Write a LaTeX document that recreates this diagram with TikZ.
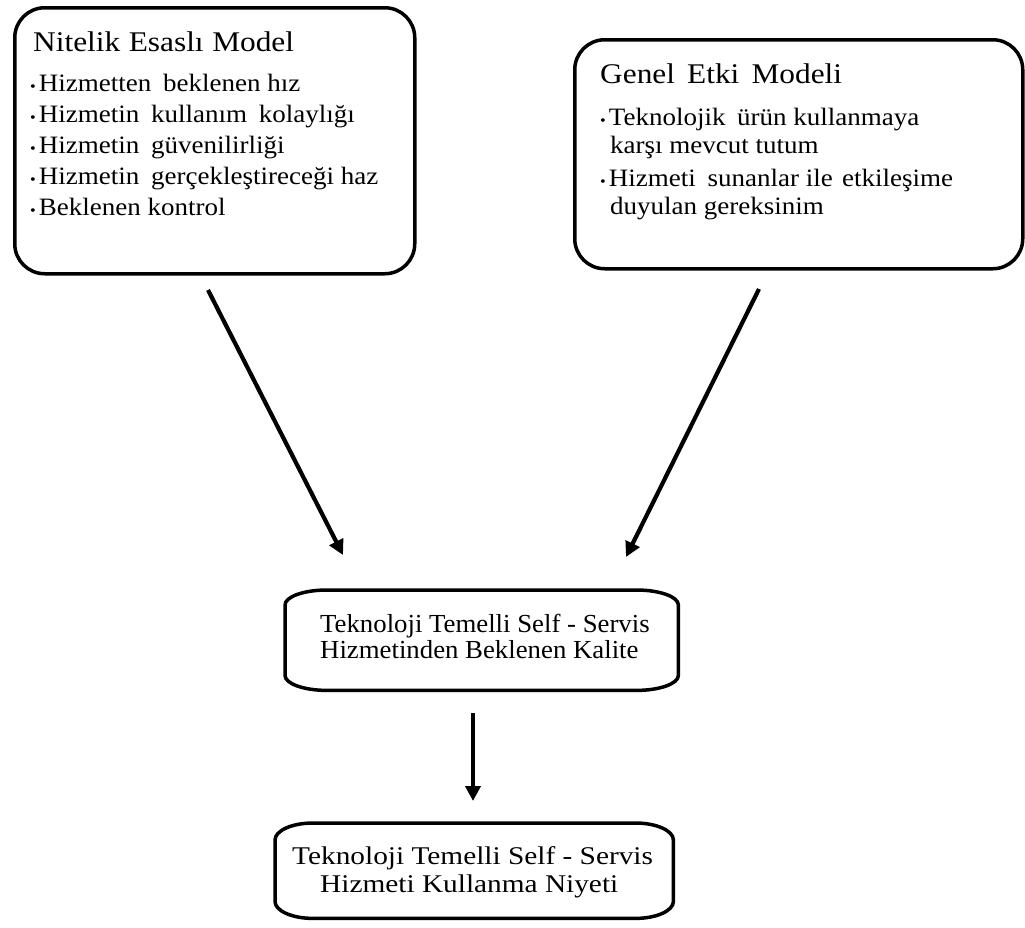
\documentclass[tikz,border=0pt]{standalone}
\usepackage{fontspec}
\setmainfont{Liberation Serif}
\newfontfamily\boxfont[FakeStretch=1.08]{Liberation Serif}
\newfontfamily\headfont[FakeStretch=1.1]{Liberation Serif}
\newfontfamily\resfont[FakeStretch=1.03]{Liberation Serif}
\newfontfamily\intfont[FakeStretch=1.15]{Liberation Serif}
\usetikzlibrary{arrows.meta,calc}

% small bullet used in the model lists
\newcommand{\listdot}{{\fontsize{15}{15}\selectfont •}\hspace{3pt}}

\tikzset{
  modelbox/.style={draw, line width=3.5pt, rounded corners=30pt, inner sep=0pt, anchor=north west},
  plainbox/.style={inner sep=0pt, anchor=north west},
  heading/.style={anchor=base west, inner sep=0pt, font=\headfont\fontsize{28.5}{30}\selectfont},
  item/.style={anchor=base west, inner sep=0pt, font=\boxfont\fontsize{25}{28}\selectfont},
  restext/.style={anchor=base west, inner sep=0pt, font=\resfont\fontsize{26}{28}\selectfont},
  inttext/.style={anchor=base west, inner sep=0pt, font=\intfont\fontsize{25.5}{28}\selectfont},
  border/.style={line width=3.5pt},
  flow/.style={line width=4.2pt, -{Triangle[length=15pt,width=15pt]}}
}

\begin{document}
\begin{tikzpicture}[x=1pt,y=-1pt]
\useasboundingbox (0,0) rectangle (1025,927);

% --- Nitelik Esasli Model ---
\node[modelbox, minimum width=400pt, minimum height=266pt] (nitelik) at (13,6) {};
\node[heading] (nt) at (33,51) {Nitelik\hspace{.3em}Esaslı\hspace{.3em}Model};
\node[item] (n1) at (30,91)  {\listdot Hizmetten\hspace{.2em} beklenen hız};
\node[item] (n2) at (30,122) {\listdot Hizmetin\hspace{.2em} kullanım\hspace{.2em} kolaylığı};
\node[item] (n3) at (30,153) {\listdot Hizmetin\hspace{.2em} güvenilirliği};
\node[item] (n4) at (30,184) {\listdot Hizmetin\hspace{.2em} gerçekleştireceği haz};
\node[item] (n5) at (30,215) {\listdot Beklenen kontrol};

% --- Genel Etki Modeli ---
\node[modelbox, minimum width=448pt, minimum height=229pt] (genel) at (573,38) {};
\node[heading] (gt) at (600,83) {Genel\hspace{.15em} Etki\hspace{.15em} Modeli};
\node[item] (g1) at (600,125) {\listdot Teknolojik\hspace{.2em} ürün kullanmaya};
\node[item] (g1b) at (610,153) {karşı mevcut tutum};
\node[item] (g2) at (600,186) {\listdot Hizmeti\hspace{.2em} sunanlar ile\hspace{.1em} etkileşime};
\node[item] (g2b) at (610,214) {duyulan gereksinim};

% --- expected quality ---
\node[plainbox, minimum width=393pt, minimum height=100pt] (kalite) at (285,590) {};
\draw[border]
  ([xshift=42pt]kalite.north west) -- ([xshift=-42pt]kalite.north east)
  arc[start angle=90, end angle=0, x radius=42pt, y radius=15pt]
  -- ([yshift=15pt]kalite.south east)
  arc[start angle=0, end angle=-90, x radius=42pt, y radius=15pt]
  -- ([xshift=42pt]kalite.south west)
  arc[start angle=270, end angle=180, x radius=42pt, y radius=15pt]
  -- ([yshift=-15pt]kalite.north west)
  arc[start angle=180, end angle=90, x radius=42pt, y radius=15pt]
  -- cycle;
\node[restext] (k1) at (320,632) {Teknoloji Temelli Self - Servis};
\node[restext] (k2) at (320,658) {Hizmetinden Beklenen Kalite};

% --- intention to use ---
\node[plainbox, minimum width=398pt, minimum height=95pt] (niyet) at (275,823) {};
\draw[border]
  ([xshift=38pt]niyet.north west) -- ([xshift=-38pt]niyet.north east)
  arc[start angle=90, end angle=0, x radius=38pt, y radius=17pt]
  -- ([yshift=17pt]niyet.south east)
  arc[start angle=0, end angle=-90, x radius=38pt, y radius=17pt]
  -- ([xshift=38pt]niyet.south west)
  arc[start angle=270, end angle=180, x radius=38pt, y radius=17pt]
  -- ([yshift=-17pt]niyet.north west)
  arc[start angle=180, end angle=90, x radius=38pt, y radius=17pt]
  -- cycle;
\node[inttext] (i1) at (292,864) {Teknoloji Temelli Self - Servis};
\node[inttext] (i2) at (320,892) {Hizmeti Kullanma Niyeti};

% --- connectors ---
\coordinate (ns) at (208,290);
\coordinate (ne) at (343,555);
\coordinate (gs) at (759,289);
\coordinate (ge) at (626,557);
\coordinate (ks) at (473,713);
\coordinate (ke) at (473,801);
\draw[flow] (ns) -- (ne);
\draw[flow] (gs) -- (ge);
\draw[flow] (ks) -- (ke);
\end{tikzpicture}
\end{document}
